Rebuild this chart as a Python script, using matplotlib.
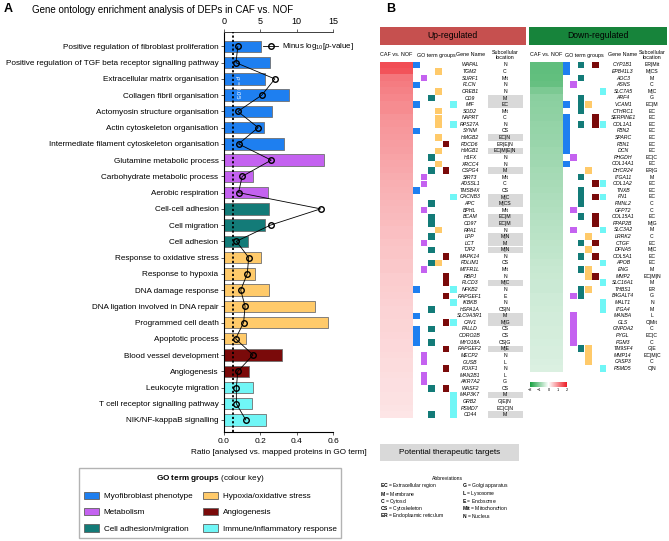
import numpy as np
import matplotlib.pyplot as plt
from matplotlib.patches import Patch, Rectangle
from matplotlib.lines import Line2D
from matplotlib.colors import LinearSegmentedColormap

plt.rcParams['font.family'] = ['Liberation Sans', 'DejaVu Sans']
plt.rcParams['mathtext.fontset'] = 'custom'
plt.rcParams['mathtext.rm'] = 'Liberation Sans'
plt.rcParams['mathtext.it'] = 'Liberation Sans:italic'
plt.rcParams['mathtext.bf'] = 'Liberation Sans:bold'

# ---- panel A data ----
go_terms = ['Positive regulation of fibroblast proliferation',
            'Positive regulation of TGF beta receptor signalling pathway',
            'Extracellular matrix organisation', 'Collagen fibril organisation',
            'Actomyosin structure organisation', 'Actin cytoskeleton organisation',
            'Intermediate filament cytoskeleton organisation',
            'Glutamine metabolic process', 'Carbohydrate metabolic process',
            'Aerobic respiration', 'Cell-cell adhesion', 'Cell migration',
            'Cell adhesion', 'Response to oxidative stress', 'Response to hypoxia',
            'DNA damage response', 'DNA ligation involved in DNA repair',
            'Programmed cell death', 'Apoptotic process', 'Blood vessel development',
            'Angiogenesis', 'Leukocyte migration', 'T cell receptor signalling pathway',
            'NIK/NF-kappaB signalling']
term_group = [0, 0, 0, 0, 0, 0, 0, 1, 1, 1, 2, 2, 2, 3, 3, 3, 3, 3, 3, 4, 4, 5, 5, 5]
ratio = [0.204, 0.253, 0.226, 0.358, 0.264, 0.22, 0.33, 0.55, 0.16, 0.242, 0.248, 0.226,
         0.132, 0.204, 0.17, 0.248, 0.50, 0.57, 0.12, 0.32, 0.138, 0.16, 0.154, 0.23]
logp = [1.9, 1.65, 7.0, 5.2, 1.9, 4.7, 2.0, 6.5, 2.5, 2.0, 13.3, 6.4,
        1.7, 3.4, 3.2, 2.3, 2.9, 2.7, 1.6, 4.0, 1.9, 1.7, 1.7, 3.0]

group_names = ['Myofibroblast phenotype', 'Metabolism', 'Cell adhesion/migration',
               'Hypoxia/oxidative stress', 'Angiogenesis', 'Immune/inflammatory response']
group_colors = ['#1e7ff0', '#c462f0', '#137b78', '#ffca6a', '#7a0a0a', '#70f6f6']
group_codes = 'BPTORC'

# ---- panel B data ----
up_genes = ['WAPAL', 'TGM2', 'SURF1', 'FLCN', 'CREB1', 'CD9', 'MIF', 'SOD2', 'NAPRT', 'RPS27A',
            'SYNM', 'HMGB2', 'PDCD6', 'HMGB1', 'H1FX', 'XRCC4', 'CSPG4', 'SIRT3', 'ADSSL1',
            'TMSB4X', 'CACNB3', 'APC', 'BPHL', 'BCAM', 'CD97', 'RPA1', 'LPP', 'LCT', 'TJP2',
            'MAPK14', 'PDLIM1', 'MTFR1L', 'RBPJ', 'PLCD3', 'NFKB2', 'RAPGEF1', 'IKBKB',
            'HSPA1A', 'SLC9A3R1', 'CAV1', 'PALLD', 'CORO2B', 'MYO18A', 'RAPGEF2', 'MECP2',
            'GUSB', 'FOXF1', 'MAN2B1', 'AKR7A2', 'WASF2', 'MAP3K7', 'GRB2', 'PSMD7', 'CD44']
up_fc = [1.55, 1.5, 1.2, 1.15, 1.1, 1.05, 1.0, 1.0, 0.95, 0.93, 0.9, 0.88, 0.85, 0.83, 0.8,
         0.78, 0.75, 0.72, 0.7, 0.68, 0.66, 0.64, 0.62, 0.6, 0.58, 0.56, 0.55, 0.53, 0.51,
         0.5, 0.48, 0.47, 0.45, 0.44, 0.43, 0.42, 0.4, 0.39, 0.38, 0.37, 0.36, 0.35, 0.34,
         0.33, 0.32, 0.31, 0.3, 0.29, 0.28, 0.27, 0.26, 0.25, 0.24, 0.23]
up_groups = ['B', 'O', 'P', 'B', 'O', 'T', 'BC', 'O', 'O', 'OC', 'B', 'O', 'R', 'O', 'T', 'O',
             'TR', 'P', 'P', 'B', 'C', 'T', 'P', 'T', 'T', 'O', 'T', 'P', 'T', 'R', 'TO', 'P',
             'R', 'R', 'BC', 'R', 'C', 'T', 'B', 'RC', 'BT', 'B', 'BT', 'R', 'P', 'P', 'R',
             'P', 'P', 'TR', 'C', 'C', 'C', 'TC']
up_locs = ['N', 'C', 'Mit', 'N', 'N', 'M', 'EC', 'Mit', 'C', 'N', 'CS', 'EC|N', 'ER|E|N',
           'EC|M|E|N', 'N', 'N', 'M', 'Mit', 'C', 'CS', 'M|C', 'M|CS', 'Mit', 'EC|M', 'EC|M',
           'N', 'M|N', 'M', 'M|N', 'N', 'CS', 'Mit', 'N', 'M|C', 'N', 'E', 'N', 'CS|N', 'M',
           'M|G', 'CS', 'CS', 'CS|G', 'M|E', 'N', 'L', 'N', 'L', 'G', 'CS', 'M', 'G|E|N',
           'EC|C|N', 'M']
up_targets = ['CD9', 'MIF', 'HMGB2', 'HMGB1', 'CSPG4', 'CACNB3', 'APC', 'BCAM', 'CD97', 'LPP',
              'LCT', 'TJP2', 'PLCD3', 'SLC9A3R1', 'CAV1', 'RAPGEF2', 'MAP3K7', 'CD44']

down_genes = ['CYP1B1', 'EPB41L3', 'AOC3', 'ASNS', 'SLC7A5', 'ARF4', 'VCAM1', 'CTHRC1',
              'SERPINE1', 'COL1A1', 'FBN2', 'SPARC', 'FBN1', 'DCN', 'PHGDH', 'COL14A1',
              'DHCR24', 'ITGA11', 'COL1A2', 'TNXB', 'FN1', 'FMNL2', 'GFPT2', 'COL15A1',
              'PPAP2B', 'SLC3A2', 'LRRK2', 'CTGF', 'DFNA5', 'COL5A1', 'APOB', 'ENG', 'MMP2',
              'SLC16A1', 'THBS1', 'B4GALT4', 'MALT1', 'ITGA4', 'MANBA', 'GLS', 'GNPDA2',
              'PYGL', 'PGM3', 'TM9SF4', 'MMP14', 'CASP3', 'PSMD5']
down_fc = [-1.35, -1.35, -1.33, -1.3, -1.12, -1.0, -0.98, -0.96, -0.94, -0.92, -0.9, -0.88,
           -0.86, -0.84, -0.82, -0.8, -0.78, -0.76, -0.74, -0.72, -0.7, -0.68, -0.66, -0.64,
           -0.62, -0.6, -0.58, -0.56, -0.54, -0.52, -0.5, -0.48, -0.46, -0.45, -0.44, -0.42,
           -0.41, -0.4, -0.39, -0.38, -0.37, -0.36, -0.35, -0.34, -0.33, -0.32, -0.31]
down_groups = ['BTR', 'B', 'T', 'P', 'C', 'T', 'BTO', 'T', 'BR', 'BTRC', 'B', 'B', 'B', 'B',
               'P', 'B', 'O', 'T', 'RC', 'T', 'TRC', 'T', 'P', 'TR', 'R', 'PC', 'O', 'TR', 'O',
               'TR', 'C', 'TO', 'OR', 'C', 'TO', 'PT', 'C', 'C', 'P', 'P', 'P', 'P', 'P', 'TO',
               'O', 'O', 'C']
down_locs = ['ER|Mit', 'M|CS', 'M', 'C', 'M|C', 'G', 'EC|M', 'EC', 'EC', 'EC', 'EC', 'EC',
             'EC', 'EC', 'EC|C', 'EC', 'ER|G', 'M', 'EC', 'EC', 'EC', 'C', 'C', 'EC', 'M|G',
             'M', 'C', 'EC', 'M|C', 'EC', 'EC', 'M', 'EC|M|N', 'M', 'ER', 'G', 'N', 'M', 'L',
             'C|Mit', 'C', 'EC|C', 'C', 'G|E', 'EC|M|C', 'C', 'C|N']
down_targets = []

abbr_left = [('EC', 'Extracellular region'), ('M', 'Membrane'), ('C', 'Cytosol'),
             ('CS', 'Cytoskeleton'), ('ER', 'Endoplasmic reticulum')]
abbr_right = [('G', 'Golgi apparatus'), ('L', 'Lysosome'), ('E', 'Endosome'),
              ('Mit', 'Mitochondrion'), ('N', 'Nucleus')]

W, H = 669, 541
fig = plt.figure(figsize=(W / 100, H / 100), dpi=100)


def px_axes(l, t, w, h):
    return fig.add_axes([l / W, 1 - (t + h) / H, w / W, h / H])


def ftext(x, y, s, **kw):
    return fig.text(x / W, 1 - y / H, s, **kw)


# ================= panel A =================
ftext(4, 9, 'A', fontsize=9, fontweight='bold', va='center')
ftext(32, 10, 'Gene ontology enrichment analysis of DEPs in CAF vs. NOF', fontsize=7.0, va='center')

ax = px_axes(224, 32, 109, 400)
y = np.arange(len(go_terms))
ax.barh(y, ratio, height=0.7, color=[group_colors[g] for g in term_group],
        edgecolor='#707070', linewidth=0.6, zorder=2)
ax.set_xlim(0, 0.6)
ax.set_ylim(23.74, -0.89)
ax.set_yticks(y)
ax.set_yticklabels(go_terms, fontsize=5.9)
ax.set_xticks([0, 0.2, 0.4, 0.6])
ax.set_xticklabels(['0.0', '0.2', '0.4', '0.6'], fontsize=6)
ax.set_xlabel('Ratio [analysed vs. mapped proteins in GO term]', fontsize=5.9, labelpad=3)
ax.tick_params(axis='both', length=2.5, width=0.6, pad=1.5, color='#444444')
for s in ['left', 'bottom', 'top']:
    ax.spines[s].set_linewidth(0.7)
    ax.spines[s].set_color('#444444')
ax.spines['right'].set_visible(False)

ax2 = ax.twiny()
ax2.set_xlim(0, 15)
ax2.set_xticks([0, 5, 10, 15])
ax2.tick_params(axis='x', labelsize=6.5, length=2.5, width=0.6, pad=1.5, color='#444444')
ax2.spines['right'].set_visible(False)
ax2.spines['top'].set_linewidth(0.7)
ax2.spines['top'].set_color('#444444')
ax2.axvline(1.3, color='k', linestyle=(0, (1.2, 1.2)), linewidth=1.3, zorder=3)
ax2.plot(logp, y, color='k', linewidth=0.6, marker='o', markersize=4,
         markerfacecolor='none', markeredgecolor='k', markeredgewidth=1, zorder=4)
ax2.text(1.8, 2.5, '$p$ = 0.05', rotation=270, fontsize=4.5, color='white',
         ha='center', va='center', zorder=5)

line_handle = Line2D([], [], color='k', linewidth=0.6, marker='o', markersize=4,
                     markerfacecolor='none', markeredgecolor='k', markeredgewidth=1)
ax2.legend([line_handle], [r'Minus log$_{10}$[$p$-value]'], loc='center left',
           bbox_to_anchor=(263 / W, 1 - 47 / H), bbox_transform=fig.transFigure,
           frameon=False, fontsize=5.7, handlelength=1.9, handletextpad=0.5,
           borderpad=0, borderaxespad=0)

patches = [Patch(facecolor=c, edgecolor='#606060', linewidth=0.6) for c in group_colors]
leg = fig.legend(patches, group_names, ncol=2, loc='upper left',
                 bbox_to_anchor=(79 / W, 1 - 468 / H),
                 title=r'$\mathbf{GO\ term\ groups}$ (colour key)', title_fontsize=5.9,
                 fontsize=5.9, handlelength=1.9, handleheight=1.0, labelspacing=0.95,
                 columnspacing=1.3, handletextpad=0.5, borderpad=0.6, borderaxespad=0,
                 fancybox=False, edgecolor='#a0a0a0')
leg.get_frame().set_linewidth(1.0)

# ================= panel B =================
ftext(386, 9, 'B', fontsize=9, fontweight='bold', va='center')

cmap = LinearSegmentedColormap.from_list('gwr', ['#16a040', '#ffffff', '#ee1c25'])

row_h = 6.6
row_top = 61.7


def header_band(l, w, text, color):
    b = px_axes(l, 27, w, 18)
    b.set_facecolor(color)
    b.set_xticks([])
    b.set_yticks([])
    for s in b.spines.values():
        s.set_visible(False)
    b.text(0.5, 0.5, text, transform=b.transAxes, ha='center', va='center', fontsize=6.2)


def draw_table(left, width, genes, fc, groups, locs, targets, col0, gene_x, loc_x):
    n = len(genes)
    t = px_axes(left, row_top, width, n * row_h)
    t.set_xlim(0, width)
    t.set_ylim(n, 0)
    t.axis('off')
    im = t.imshow(np.array(fc)[:, None], cmap=cmap, vmin=-2, vmax=2,
                  extent=(0, 33, n, 0), aspect='auto', interpolation='nearest')
    for i, g in enumerate(groups):
        for code in g:
            k = group_codes.index(code)
            t.add_patch(Rectangle((col0 + k * 7.33, i), 6.6, 1, facecolor=group_colors[k],
                                  linewidth=0))
    for i, name in enumerate(genes):
        t.text(gene_x, i + 0.5, name, ha='center', va='center', fontsize=3.7, style='italic')
        if name in targets:
            t.add_patch(Rectangle((loc_x - 17.5, i), 35, 1, facecolor='#d9d9d9', linewidth=0))
        t.text(loc_x, i + 0.5, locs[i], ha='center', va='center', fontsize=3.7)
    return im


def col_headers(xs):
    ftext(xs[0], 55, 'CAF vs. NOF', fontsize=3.9, ha='center', va='center')
    ftext(xs[1], 55, 'GO term groups', fontsize=3.9, ha='center', va='center')
    ftext(xs[2], 55, 'Gene Name', fontsize=3.9, ha='center', va='center')
    ftext(xs[3], 55, 'Subcellular\nlocation', fontsize=3.9, ha='center', va='center',
          linespacing=1.0)


header_band(380, 146, 'Up-regulated', '#c6504f')
header_band(529, 138, 'Down-regulated', '#17843b')
col_headers([396, 436, 471, 505])
col_headers([546, 584, 623, 652])

im = draw_table(380, 145, up_genes, up_fc, up_groups, up_locs, up_targets, 33.3, 90, 125)
draw_table(530, 139, down_genes, down_fc, down_groups, down_locs, down_targets, 33.0, 93, 122)

cax = px_axes(530, 382, 37, 5)
cb = fig.colorbar(im, cax=cax, orientation='horizontal', ticks=[-2, -1, 0, 1, 2])
cb.outline.set_visible(False)
cb.ax.tick_params(labelsize=2.8, length=0, pad=1)

tb = px_axes(380, 444, 139, 17)
tb.set_facecolor('#d9d9d9')
tb.set_xticks([])
tb.set_yticks([])
for s in tb.spines.values():
    s.set_visible(False)
tb.text(0.5, 0.5, 'Potential therapeutic targets', transform=tb.transAxes,
        ha='center', va='center', fontsize=5.9)

ftext(447, 478, 'Abbreviations', fontsize=3.6, ha='center', va='center')
for j, (code, name) in enumerate(abbr_left):
    ftext(380, 486 + j * 7.5, r'$\mathbf{%s}$ = %s' % (code, name), fontsize=3.6, va='center')
for j, (code, name) in enumerate(abbr_right):
    ftext(462, 486 + j * 7.5, r'$\mathbf{%s}$ = %s' % (code, name), fontsize=3.6, va='center')

fig.savefig('out.png', dpi=100)
